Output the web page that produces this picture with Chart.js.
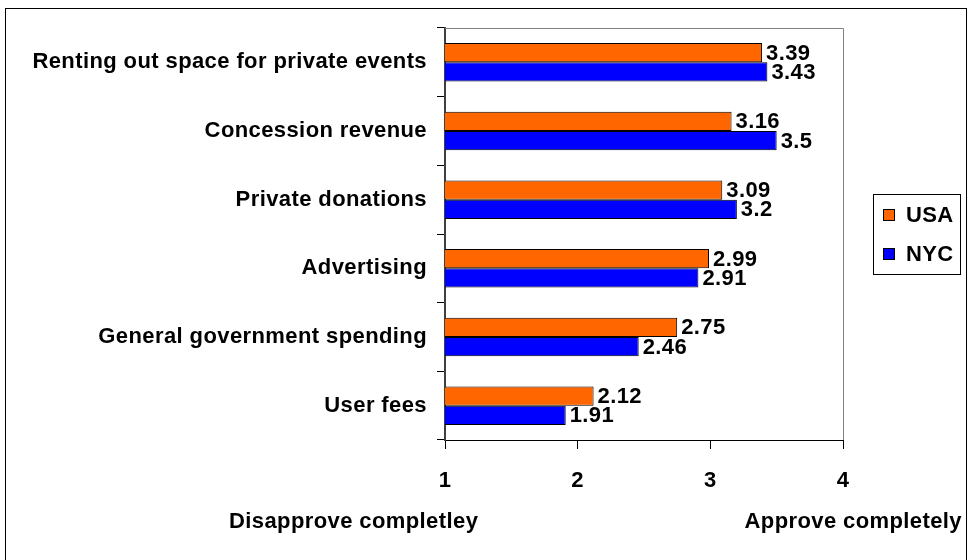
<!DOCTYPE html>
<html lang="en">
<head>
    <meta charset="UTF-8">
    <title>Funding sources approval</title>
    <script src="https://cdn.jsdelivr.net/npm/chart.js"></script>
    <style>
        body { margin: 0; background: #fff; }
        #wrap { width: 968px; height: 560px; }
    </style>
</head>
<body>
    <div id="wrap">
        <canvas id="fundingChart" width="968" height="560"></canvas>
    </div>

    <script>
        // Average approval, 1 = disapprove completely, 4 = approve completely
        const categories = [
            'Renting out space for private events',
            'Concession revenue',
            'Private donations',
            'Advertising',
            'General government spending',
            'User fees'
        ];
        const usaValues = [3.39, 3.16, 3.09, 2.99, 2.75, 2.12];
        const nycValues = [3.43, 3.5, 3.2, 2.91, 2.46, 1.91];
        const seriesNames = ['USA', 'NYC'];
        const seriesColors = ['#FF6600', '#0000FF'];
        const scaleTicks = [1, 2, 3, 4];

        const FONT = '"Liberation Sans", Arial, sans-serif';
        const SIZE = 22;

        // value labels, frame, plot border, legend and the two end captions
        const extras = {
            id: 'extras',
            beforeDraw(chart) {
                // slightly looser text, like the old office renderer
                chart.ctx.letterSpacing = '0.4px';
            },
            afterDraw(chart) {
                const ctx = chart.ctx;
                const area = chart.chartArea;
                ctx.save();

                // plot area border (top / right)
                ctx.strokeStyle = '#808080';
                ctx.lineWidth = 1;
                ctx.beginPath();
                ctx.moveTo(area.left, area.top + 0.5);
                ctx.lineTo(area.right + 0.5, area.top + 0.5);
                ctx.lineTo(area.right + 0.5, area.bottom);
                ctx.stroke();

                // bar values
                ctx.fillStyle = '#000';
                ctx.font = 'bold ' + SIZE + 'px ' + FONT;
                ctx.textBaseline = 'middle';
                ctx.textAlign = 'left';
                chart.data.datasets.forEach((ds, i) => {
                    chart.getDatasetMeta(i).data.forEach((bar, j) => {
                        ctx.fillText(String(ds.data[j]), bar.x + 4, bar.y + 1);
                    });
                });

                // legend
                const lx = 873, ly = 194, lw = 87, lh = 80;
                ctx.strokeStyle = '#000';
                ctx.strokeRect(lx + 0.5, ly + 0.5, lw, lh);
                chart.data.datasets.forEach((ds, i) => {
                    const cy = ly + 21 + i * 39;
                    ctx.fillStyle = ds.backgroundColor;
                    ctx.fillRect(lx + 10, cy - 6, 12, 12);
                    ctx.strokeStyle = '#000';
                    ctx.strokeRect(lx + 10.5, cy - 5.5, 11, 11);
                    ctx.fillStyle = '#000';
                    ctx.fillText(ds.label, lx + 33, cy + 1);
                });

                // scale end captions
                ctx.textAlign = 'left';
                ctx.fillText('Disapprove completley', 229, 522);
                ctx.textAlign = 'right';
                ctx.fillText('Approve completely', 962, 522);

                // outer frame
                ctx.strokeStyle = '#000';
                ctx.strokeRect(5.5, 8.5, 961, 600);
                ctx.restore();
            }
        };

        const ctx = document.getElementById('fundingChart').getContext('2d');
        new Chart(ctx, {
            type: 'bar',
            data: {
                labels: categories,
                datasets: [
                    {
                        label: seriesNames[0],
                        data: usaValues,
                        backgroundColor: seriesColors[0],
                        borderColor: '#000',
                        borderWidth: 1,
                        borderSkipped: false
                    },
                    {
                        label: seriesNames[1],
                        data: nycValues,
                        backgroundColor: seriesColors[1],
                        borderColor: '#000',
                        borderWidth: 1,
                        borderSkipped: false
                    }
                ]
            },
            options: {
                indexAxis: 'y',
                responsive: false,
                animation: false,
                categoryPercentage: 0.56,
                barPercentage: 1.0,
                layout: { padding: { top: 28, right: 125, left: 0, bottom: 0 } },
                plugins: {
                    legend: { display: false },
                    tooltip: { enabled: false }
                },
                scales: {
                    x: {
                        type: 'linear',
                        min: 1,
                        max: 4,
                        afterBuildTicks(scale) {
                            scale.ticks = scaleTicks.map(v => ({ value: v }));
                        },
                        afterFit(scale) { scale.height = 120; },
                        grid: {
                            drawOnChartArea: false,
                            tickLength: 9,
                            color: '#000'
                        },
                        border: { color: '#000', width: 1 },
                        ticks: {
                            color: '#000',
                            padding: 19,
                            maxRotation: 0,
                            font: { family: FONT, size: SIZE, weight: 'bold' }
                        }
                    },
                    y: {
                        afterFit(scale) { scale.width = 445; },
                        grid: {
                            drawOnChartArea: false,
                            offset: true,
                            tickLength: 8,
                            color: '#000'
                        },
                        border: { color: '#404040', width: 2 },
                        ticks: {
                            color: '#000',
                            padding: 10,
                            font: { family: FONT, size: SIZE, weight: 'bold' }
                        }
                    }
                }
            },
            plugins: [extras]
        });
    </script>
</body>
</html>
